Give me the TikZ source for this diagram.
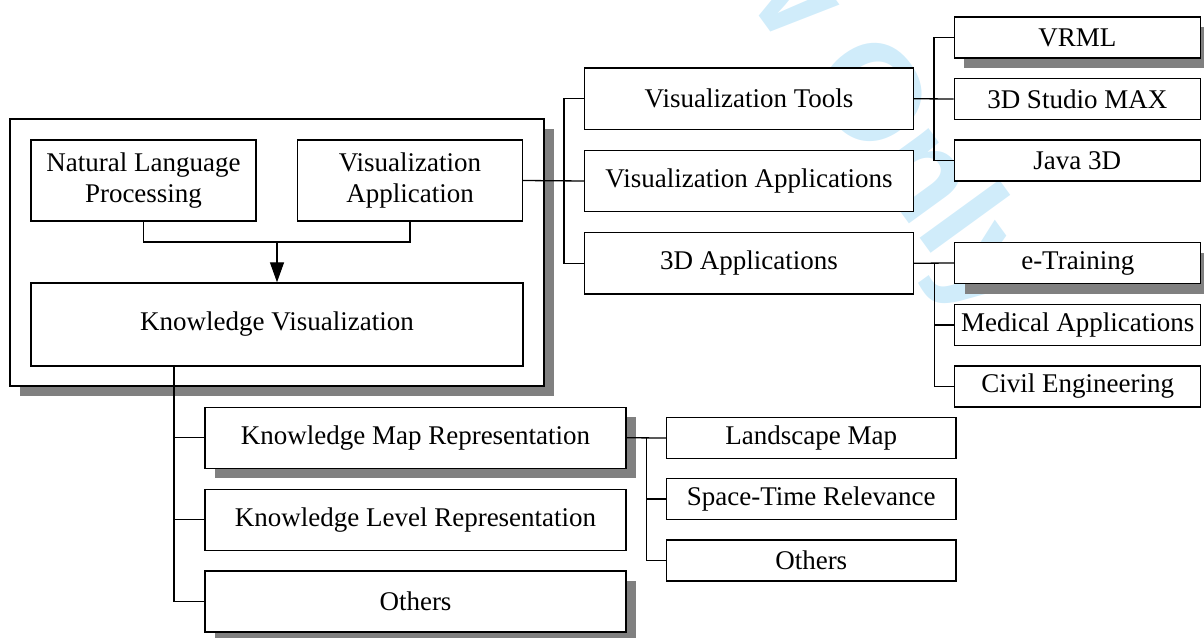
\documentclass[tikz,border=0pt]{standalone}
\usepackage{fontspec}
\setmainfont{Liberation Serif}
\newfontfamily\wmfont{Liberation Sans}
\usepackage{tikz}
\usetikzlibrary{arrows.meta,shadows}

\definecolor{wmcyan}{RGB}{208,236,250}
\definecolor{shadowgray}{RGB}{128,128,128}

\tikzset{
	box/.style={draw, fill=white, line width=0.7pt, inner sep=0pt, align=center, font=\fontsize{13.5}{15.5}\selectfont},
	shaded/.style={drop shadow={shadow xshift=5pt, shadow yshift=-5pt, fill=shadowgray, opacity=1}},
	line/.style={line width=0.65pt},
	% box sizes
	frame size/.style={minimum width=267pt, minimum height=133.5pt},
	inner size/.style={minimum width=112.5pt, minimum height=40.5pt},
	mid size/.style={minimum width=164.5pt, minimum height=30.75pt},
	leaf size/.style={minimum width=123pt, minimum height=20.5pt},
	rep size/.style={minimum width=210.5pt, minimum height=30.5pt},
	sub size/.style={minimum width=144.75pt, minimum height=20.5pt},
	watermark/.style={text=wmcyan, font=\wmfont\bfseries\fontsize{68}{68}\selectfont, rotate=-54, anchor=east, inner sep=0pt}
}

\begin{document}
\begin{tikzpicture}[x=0.5pt, y=-0.5pt]
	\useasboundingbox (0,0) rectangle (1204,637);

	% Watermark
	\begin{scope}
		\clip (0,0) rectangle (1204,637);
		\node[watermark] (wm) at (1010,302) {For Peer Review Only};
	\end{scope}

	% Outer frame
	\node[box, shaded, frame size] (frame) at (277,252.5) {};

	% Inside the frame
	\node[box, inner size] (nlp) at (143.5,180.5) {Natural Language\\Processing};
	\node[box, inner size] (vapp) at (410,180.5) {Visualization\\Application};
	\node[box, minimum width=246pt, minimum height=41.5pt] (kv) at (277,324.5) {Knowledge Visualization};

	% Visualization branch
	\node[box, mid size] (vt) at (749,98.75) {Visualization Tools};
	\node[box, mid size] (vas) at (749,181) {Visualization Applications};
	\node[box, mid size] (tda) at (749,263.25) {3D Applications};

	%Tools
	\node[box, shaded, leaf size] (vrml) at (1077.25,37.5) {VRML};
	\node[box, leaf size] (studio) at (1077.25,99) {3D Studio MAX};
	\node[box, leaf size] (java) at (1077.25,160.5) {Java 3D};

	%3D applications
	\node[box, shaded, leaf size] (etrain) at (1077.75,263) {e-Training};
	\node[box, leaf size] (medical) at (1077.75,325) {Medical Applications};
	\node[box, leaf size] (civil) at (1077.75,386.5) {Civil Engineering};

	% Representation branch
	\node[box, shaded, rep size] (kmr) at (415.5,437.75) {Knowledge Map Representation};
	\node[box, rep size] (klr) at (415.5,519.75) {Knowledge Level Representation};
	\node[box, shaded, rep size] (oth) at (415.5,601.5) {Others};

	%Map representation
	\node[box, sub size] (land) at (811.25,438) {Landscape Map};
	\node[box, sub size] (stime) at (811.25,499) {Space-Time Relevance};
	\node[box, sub size] (oth2) at (811.25,560.5) {Others};

	% Connectors
	\coordinate (join) at (277,242);
	\draw[line] (nlp.south) |- (join) -| (vapp.south);
	\draw[line, -{Triangle[length=10pt, width=7pt]}] (join) -- (kv.north);

	\coordinate (busA) at (564,181);
	\draw[line] (vapp.east) -- (vas.west);
	\draw[line] (vt.west) -| (busA) |- (tda.west);

	\coordinate (busB) at (934,99);
	\draw[line] (vt.east) -- (studio.west);
	\draw[line] (vrml.west) -| (busB) |- (java.west);

	\coordinate (busC) at (934.5,263.25);
	\draw[line] (tda.east) -- (etrain.west);
	\draw[line] (busC) |- (medical.west);
	\draw[line] (busC) |- (civil.west);

	\coordinate (busD) at (174,366);
	\draw[line] (busD) |- (kmr.west);
	\draw[line] (busD) |- (klr.west);
	\draw[line] (busD) |- (oth.west);

	\coordinate (busE) at (646.5,438);
	\draw[line] (kmr.east) -- (land.west);
	\draw[line] (busE) |- (stime.west);
	\draw[line] (busE) |- (oth2.west);

\end{tikzpicture}
\end{document}
